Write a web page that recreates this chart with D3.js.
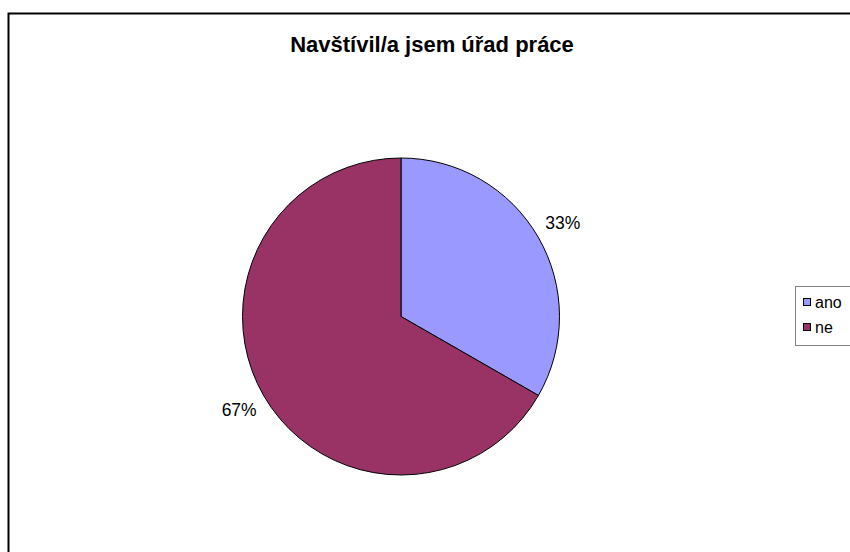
<!DOCTYPE html>
<html>
<head>
<meta charset="utf-8">
<script src="https://cdn.jsdelivr.net/npm/d3@7"></script>
<style>
html, body { margin: 0; padding: 0; background: #fff; }
svg { display: block; font-family: "Liberation Sans", Arial, sans-serif; }
</style>
</head>
<body>
<svg id="chart" width="850" height="552"></svg>
<script>
const title = "Navštívil/a jsem úřad práce";
const categories = ["ano", "ne"];
const values = [33.3, 66.7];
const colors = ["#9999FF", "#993366"];

const svg = d3.select("#chart");

// outer chart border (extends beyond right/bottom edges)
svg.append("rect")
  .attr("x", 8.5).attr("y", 13.5)
  .attr("width", 900).attr("height", 600)
  .attr("fill", "#fff").attr("stroke", "#000").attr("stroke-width", 2);

svg.append("text")
  .attr("x", 432).attr("y", 52)
  .attr("text-anchor", "middle")
  .attr("font-size", 22).attr("font-weight", "bold")
  .attr("fill", "#000")
  .text(title);

const cx = 401, cy = 316.5, r = 158.5;
const total = d3.sum(values);
const pie = d3.pie().sort(null).value(d => d)(values);
const arc = d3.arc().innerRadius(0).outerRadius(r);
const labelArc = d3.arc().innerRadius(187).outerRadius(187);

const g = svg.append("g").attr("transform", `translate(${cx},${cy})`);
g.selectAll("path").data(pie).join("path")
  .attr("d", arc)
  .attr("fill", (d, i) => colors[i])
  .attr("stroke", "#000").attr("stroke-width", 1);

g.selectAll("text.lbl").data(pie).join("text")
  .attr("class", "lbl")
  .attr("transform", d => `translate(${labelArc.centroid(d)})`)
  .attr("text-anchor", "middle")
  .attr("dy", "0.35em")
  .attr("font-size", 17.5)
  .attr("fill", "#000")
  .text(d => Math.round(d.data / total * 100) + "%");

// legend
const lg = svg.append("g");
lg.append("rect")
  .attr("x", 795.5).attr("y", 286.5)
  .attr("width", 80).attr("height", 59)
  .attr("fill", "#fff").attr("stroke", "#808080").attr("stroke-width", 1);
const items = lg.selectAll("g.item").data(categories).join("g")
  .attr("class", "item")
  .attr("transform", (d, i) => `translate(0, ${i * 25})`);
items.append("rect")
  .attr("x", 803.5).attr("y", 298.5)
  .attr("width", 7).attr("height", 7)
  .attr("fill", (d, i) => colors[i])
  .attr("stroke", "#000").attr("stroke-width", 1);
items.append("text")
  .attr("x", 815).attr("y", 308)
  .attr("font-size", 16).attr("fill", "#000")
  .text(d => d);
</script>
</body>
</html>
